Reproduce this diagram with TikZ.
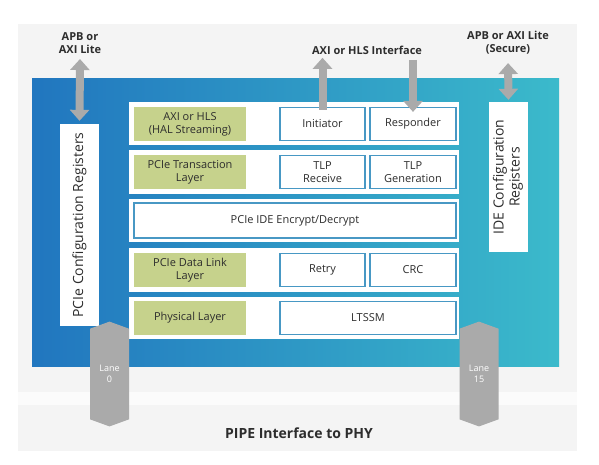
\documentclass[tikz,border=0pt]{standalone}
\usepackage{fontspec}
\setmainfont{Open Sans}
\usetikzlibrary{arrows.meta,shapes.symbols}

\definecolor{panelgray}{RGB}{244,244,244}
\definecolor{stripegray}{RGB}{251,251,251}
\definecolor{deepblue}{RGB}{33,118,191}
\definecolor{tealblue}{RGB}{59,186,203}
\definecolor{layergreen}{RGB}{198,210,140}
\definecolor{edgeblue}{RGB}{72,152,196}
\definecolor{pipegray}{RGB}{170,170,170}
\definecolor{inkgray}{RGB}{45,45,45}

\begin{document}
\begin{tikzpicture} [
    x=1pt, y=-1pt,
    every node/.style={text=inkgray, font=\fontsize{11}{13}\selectfont},
    row/.style={rectangle, fill=white, minimum width=330pt, inner sep=0pt},
    layer/.style={rectangle, fill=layergreen, minimum width=112pt, minimum height=34pt, align=center, inner sep=0pt},
    block/.style={rectangle, fill=white, draw=edgeblue, line width=1.2pt, minimum height=33pt, align=center, inner sep=0pt},
    regbox/.style={rectangle, fill=white, minimum width=39pt, inner sep=0pt, align=center, font=\fontsize{14}{15}\selectfont},
    lane/.style={signal, signal to=north and south, signal pointer angle=140, fill=pipegray, minimum width=39pt, minimum height=98pt, inner sep=0pt, align=center, text=white, font=\fontsize{9}{11}\selectfont},
    label/.style={align=center, font=\bfseries\fontsize{11}{13}\selectfont},
    fat/.style={pipegray, line width=8pt, arrows={-Triangle[width=19pt,length=11pt]}},
    fatboth/.style={fat, arrows={Triangle[width=19pt,length=11pt]-Triangle[width=19pt,length=11pt]}}
]
    \useasboundingbox (0,0) rectangle (599,464);

    % backdrop
    \fill[panelgray] (18,24) rectangle (577,451);
    \fill[stripegray] (18,392) rectangle (577,405);
    \shade[left color=deepblue, right color=tealblue] (32,78) rectangle (559,366);

    % layer rows
    \node[row, minimum height=43pt] (row1) at (294,123.5) {};
    \node[row, minimum height=44pt] (row2) at (294,172) {};
    \node[row, minimum height=43pt] (row3) at (294,220.5) {};
    \node[row, minimum height=44pt] (row4) at (294,270) {};
    \node[row, minimum height=42pt] (row5) at (294,318) {};

    % layer names
    \node[layer] (axi) at (190,124) {AXI or HLS\\(HAL Streaming)};
    \node[layer] (trans) at (190,172) {PCIe Transaction\\Layer};
    \node[layer] (dlink) at (190,270) {PCIe Data Link\\Layer};
    \node[layer] (phys) at (190,318) {Physical Layer};

    % functional blocks
    \node[block, minimum width=85pt] (init) at (322.5,124) {Initiator};
    \node[block, minimum width=86pt] (resp) at (413,124) {Responder};
    \node[block, minimum width=85pt] (tlprx) at (322.5,172) {TLP\\Receive};
    \node[block, minimum width=86pt] (tlptx) at (413,172) {TLP\\Generation};
    \node[block, minimum width=322pt, minimum height=35pt] (ide) at (295,220.5) {PCIe IDE Encrypt/Decrypt};
    \node[block, minimum width=85pt] (retry) at (322.5,270) {Retry};
    \node[block, minimum width=86pt] (crc) at (413,270) {CRC};
    \node[block, minimum width=176pt] (ltssm) at (368,318) {LTSSM};

    % register blocks
    \node[regbox, minimum height=202pt] (pcireg) at (79.5,225) {\rotatebox{90}{PCIe Configuration Registers}};
    \node[regbox, minimum height=150pt] (idereg) at (508.5,177) {\rotatebox{90}{\begin{tabular}{@{}c@{}}IDE Configuration\\[1pt]Registers\end{tabular}}};

    % lanes
    \node[lane] (lane0) at (109.5,374) {Lane\\0};
    \node[lane] (lane15) at (479,374) {Lane\\15};

    % interface labels
    \node[label] (apbl) at (80,43) {APB or\\AXI Lite};
    \node[label] (axil) at (367,50) {AXI or HLS Interface};
    \node[label] (apbr) at (508,43) {APB or AXI Lite\\(Secure)};
    \node[label, font=\bfseries\fontsize{14}{16}\selectfont] (pipe) at (299,433) {PIPE Interface to PHY};

    % interface arrows
    \draw[fatboth, shorten <=2pt, shorten >=3pt] (apbl.south) -- (pcireg.north);
    \draw[fatboth, shorten <=5pt, shorten >=2pt] (apbr.south) -- (idereg.north);
    \draw[fat] ([yshift=-3pt]init.north) -- (init.north |- axil.south);
    \draw[fat, shorten <=2pt] (resp.north |- axil.south) -- ([yshift=-5pt]resp.north);
\end{tikzpicture}
\end{document}
